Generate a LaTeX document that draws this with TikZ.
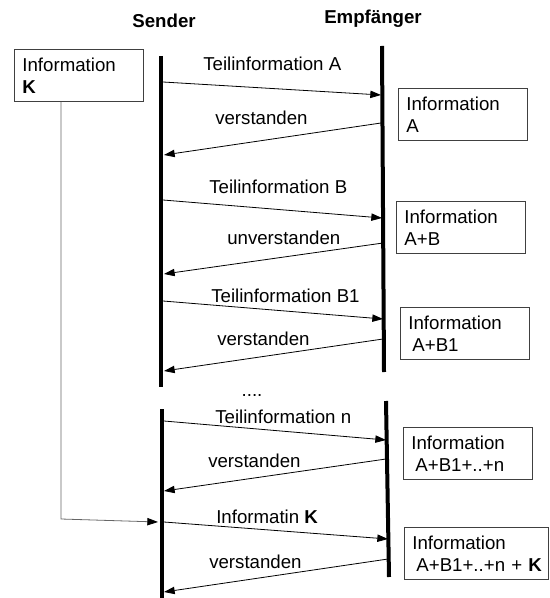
\documentclass[tikz,border=0pt]{standalone}
\usepackage{fontspec}
\setmainfont{Liberation Sans}
\usepackage{tikz}
\usetikzlibrary{arrows.meta}
\tikzset{
  box/.style ={rectangle, draw=black!75, line width=0.6pt, anchor=north west, align=left, inner xsep=6pt, inner ysep=0pt, minimum height=39pt, text width=#1, font=\fontsize{14}{16.5}\selectfont},
  box/.default=85pt,
  head/.style={font=\fontsize{14}{16.5}\selectfont\bfseries},
  lbl/.style ={anchor=west, inner sep=0pt, font=\fontsize{14}{16.5}\selectfont},
  life/.style={line width=3pt},
  msg/.style ={line width=0.6pt, -{Triangle[length=8pt,width=5.5pt]}},
  kln/.style ={draw=black!60, line width=0.6pt, -{Triangle[length=8pt,width=5.5pt,color=black]}},
}

\begin{document}
\begin{tikzpicture}[x=0.75pt, y=-0.75pt]
  \useasboundingbox (0,0) rectangle (549,598);
  \node[head] (sender) at (164,21) {Sender};
  \node[head] (empf) at (373,19) {Empfänger};
  % lifelines
  \coordinate (sTop) at (161,56);  \coordinate (sBot) at (161,387);
  \coordinate (rTop) at (382,46);  \coordinate (rBot) at (384,372);
  \coordinate (sTop2) at (162,409); \coordinate (sBot2) at (162,598);
  \coordinate (rTop2) at (386,401); \coordinate (rBot2) at (389,577);
  \draw[life] (sTop)--(sBot);
  \draw[life] (rTop)--(rBot);
  \draw[life] (sTop2)--(sBot2);
  \draw[life] (rTop2)--(rBot2);
  % boxes
  \node[box] (infoK) at (14,49) {Information\\\textbf{K}};
  \node[box] (infoA) at (398,88) {Information\\A};
  \node[box] (infoAB) at (396,201) {Information\\A+B};
  \node[box] (infoAB1) at (400,307) {Information\\\hspace*{3pt}A+B1};
  \node[box] (infoN) at (403,427) {Information\\\hspace*{3pt}A+B1+..+n};
  \node[box=96pt] (infoNK) at (404,527) {Information\\\hspace*{3pt}A+B1+..+n~+~\textbf{K}};
  % message ends
  \coordinate (s1) at (163,82);  \coordinate (r1) at (381,95);
  \coordinate (r2) at (381,123); \coordinate (s2) at (164,155);
  \coordinate (s3) at (163,200); \coordinate (r3) at (382,218);
  \coordinate (r4) at (383,243); \coordinate (s4) at (164,274);
  \coordinate (s5) at (163,301); \coordinate (r5) at (383,319);
  \coordinate (r6) at (383,339); \coordinate (s6) at (164,371);
  \coordinate (s7) at (164,421); \coordinate (r7) at (386,440);
  \coordinate (r8) at (386,459); \coordinate (s8) at (164,491);
  \coordinate (s9) at (164,522); \coordinate (r9) at (388,539);
  \coordinate (r10) at (388,559); \coordinate (s10) at (164,592);
  \draw[msg] (s1)--(r1);
  \draw[msg] (r2)--(s2);
  \draw[msg] (s3)--(r3);
  \draw[msg] (r4)--(s4);
  \draw[msg] (s5)--(r5);
  \draw[msg] (r6)--(s6);
  \draw[msg] (s7)--(r7);
  \draw[msg] (r8)--(s8);
  \draw[msg] (s9)--(r9);
  \draw[msg] (r10)--(s10);
  % K path
  \coordinate (kBend) at (61,519);
  \coordinate (kEnd) at (158,522);
  \draw[kln] (infoK.south -| kBend)--(kBend)--(kEnd);
  % labels
  \node[lbl] (tA) at (203,64) {Teilinformation A};
  \node[lbl] (v1) at (215,118) {verstanden};
  \node[lbl] (tB) at (209,187) {Teilinformation B};
  \node[lbl] (uv) at (227,238) {unverstanden};
  \node[lbl] (tB1) at (211,296) {Teilinformation B1};
  \node[lbl] (v2) at (217,339) {verstanden};
  \node[lbl, anchor=base] (dots) at (252,396) {....};
  \node[lbl] (tN) at (215,417) {Teilinformation n};
  \node[lbl] (v3) at (208,461) {verstanden};
  \node[lbl] (tK) at (216,517) {Informatin \textbf{K}};
  \node[lbl] (v4) at (209,562) {verstanden};
\end{tikzpicture}
\end{document}
